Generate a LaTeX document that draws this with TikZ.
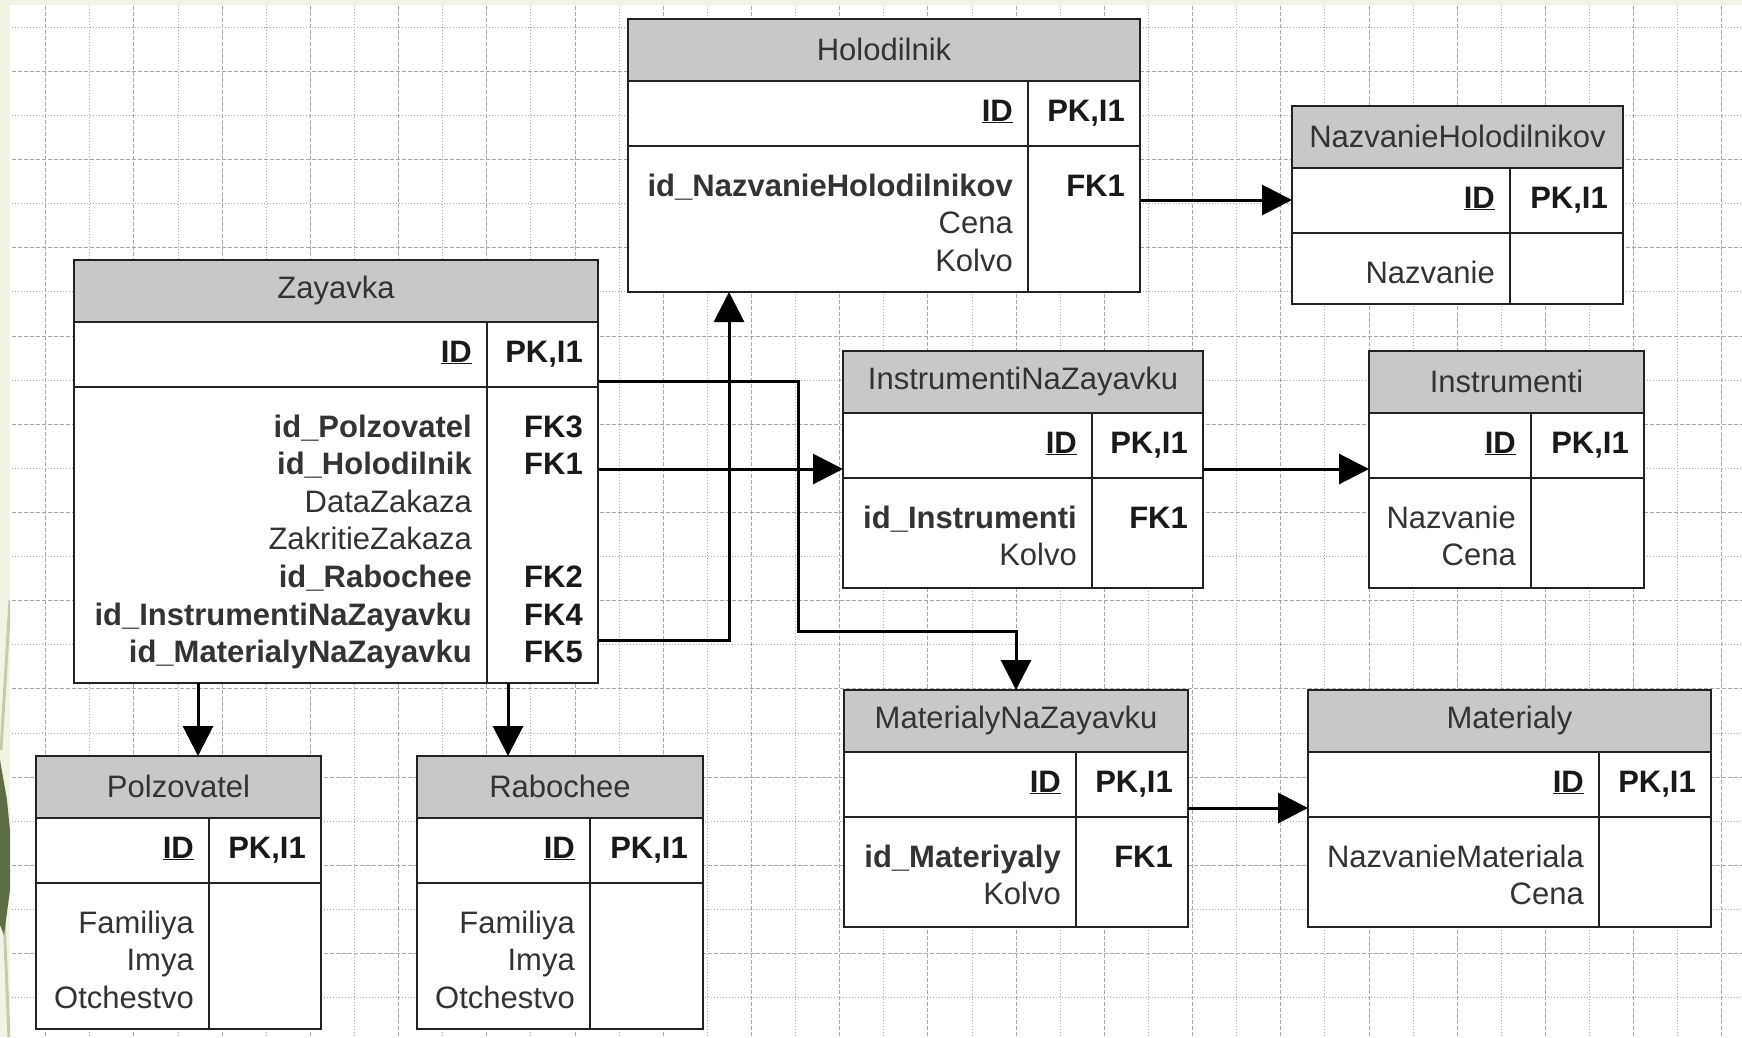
\documentclass[tikz,border=0pt]{standalone}
\usepackage{fontspec}
\setmainfont{Liberation Sans}
\usetikzlibrary{arrows.meta}

\definecolor{hdgray}{HTML}{C8C8C8}
\definecolor{txtgray}{HTML}{333333}
\definecolor{erline}{HTML}{222222}
\definecolor{paperc}{HTML}{F3F3E4}
\definecolor{leafdk}{HTML}{5E6E44}
\definecolor{leaflt}{HTML}{C6CBB0}
\definecolor{gridc}{HTML}{A6A6A6}

\tikzset{hd/.style={draw=erline, fill=hdgray, line width=2pt, inner sep=0pt, outer sep=0pt, text=txtgray, font=\fontsize{31}{36}\selectfont}}
\tikzset{cell/.style={draw=erline, fill=white, line width=2pt, inner sep=0pt, outer sep=0pt}}
\tikzset{pk/.style={inner sep=0pt, text=black!90, font=\fontsize{31}{36}\selectfont\bfseries}}
\tikzset{att/.style={inner sep=0pt, text=txtgray, font=\fontsize{31}{36}\selectfont}}
\tikzset{rel/.style={draw=black, line width=3pt, -{Triangle[length=30pt,width=30pt]}}}
\tikzset{gmaj/.style={draw=gridc, line width=1pt, dash pattern=on 4pt off 2pt}}
\tikzset{gmin/.style={draw=gridc, line width=1pt, dash pattern=on 1pt off 2pt}}

% table: name, title, x left, x divider, x right, y top, y bottom, left rows, right rows
\newcommand{\erbox}[9]{%
  \node[hd, anchor=north west, minimum width={(#5-#3)*1pt}, minimum height=61.5pt] (#1) at (#3,#6) {#2};
  \node[cell, anchor=north west, minimum width={(#5-#3)*1pt}, minimum height=65pt] (#1-k) at (#1.south west) {};
  \node[cell, anchor=north west, minimum width={(#5-#3)*1pt}, minimum height={(#7-#6-126.5)*1pt}] (#1-b) at (#1-k.south west) {};
  \draw[erline, line width=2pt] (#4,#6+61.5) -- (#4,#7);
  \node[pk, anchor=base east] at (#4-15,#6+102) {\underline{ID}};
  \node[pk, anchor=base east] at (#5-15,#6+102) {PK,I1};
  \foreach \lbl [count=\i] in {#8} \node[att, anchor=base east] (#1-l\i) at (#4-15,#6+177+\i*37.6-37.6) {\lbl};
  \foreach \lbl [count=\i] in {#9} \node[pk, anchor=base east] (#1-r\i) at (#5-15,#6+177+\i*37.6-37.6) {\lbl};
}

\begin{document}
\begin{tikzpicture}[x=1pt, y=-1pt]
\useasboundingbox (0,0) rectangle (1742,1037);
\fill[white] (0,0) rectangle (1742,1037);
% grid
\foreach \k in {0,2,...,38} \draw[gmaj] (45.7+\k*44.11,0) -- (45.7+\k*44.11,1037);
\foreach \k in {1,3,...,37} \draw[gmin] (45.7+\k*44.11,0) -- (45.7+\k*44.11,1037);
\foreach \k in {0,2,...,22} \draw[gmin] (0,27.3+\k*44.11) -- (1742,27.3+\k*44.11);
\foreach \k in {1,3,...,21} \draw[gmaj] (0,27.3+\k*44.11) -- (1742,27.3+\k*44.11);
% slide edge
\fill[paperc] (0,0) rectangle (1742,5);
\fill[paperc] (0,0) rectangle (10,1037);
\begin{scope}
\clip (0,0) rectangle (10,1037);
\draw[leaflt, line width=3pt] (10,600) -- (1,750);
\draw[leaflt, line width=3pt] (2,870) -- (9,1037);
\fill[leafdk] (0,760) -- (7,800) -- (10,830) -- (10,890) -- (4,935) -- (0,925) -- cycle;
\end{scope}

% tables
\erbox{hol}{Holodilnik}{628}{1028}{1140}{19}{292}{\textbf{id\_NazvanieHolodilnikov},Cena,Kolvo}{FK1}
\erbox{nazh}{NazvanieHolodilnikov}{1292}{1510}{1623}{106}{304}{Nazvanie}{}
\erbox{zay}{Zayavka}{74}{487}{598}{260}{683}{\textbf{id\_Polzovatel},\textbf{id\_Holodilnik},DataZakaza,ZakritieZakaza,\textbf{id\_Rabochee},\textbf{id\_InstrumentiNaZayavku},\textbf{id\_MaterialyNaZayavku}}{FK3,FK1,{},{},FK2,FK4,FK5}
\erbox{ins}{InstrumentiNaZayavku}{843}{1092}{1203}{351}{588}{\textbf{id\_Instrumenti},Kolvo}{FK1}
\erbox{inst}{Instrumenti}{1369}{1531}{1644}{351}{588}{Nazvanie,Cena}{}
\erbox{mnz}{MaterialyNaZayavku}{844}{1076}{1188}{690}{927}{\textbf{id\_Materiyaly},Kolvo}{FK1}
\erbox{mat}{Materialy}{1308}{1599}{1711}{690}{927}{NazvanieMateriala,Cena}{}
\erbox{polz}{Polzovatel}{36}{209}{321}{756}{1029}{Familiya,Imya,Otchestvo}{}
\erbox{rab}{Rabochee}{417}{590}{703}{756}{1029}{Familiya,Imya,Otchestvo}{}

% bends
\coordinate (jHol) at (729,640);
\coordinate (jIns) at (720,469);
\coordinate (jMnz) at (798,631);
\coordinate (jMat) at (1250,808);
\coordinate (jPol) at (198,720);
\coordinate (jRab) at (508,720);

% relations
\draw[rel] (zay-b.east |- jHol) -- (jHol) -- (jHol |- hol-b.south);
\draw[rel] (zay-b.east |- jIns) -- (ins-k.west |- jIns);
\draw[rel] ([yshift=5pt]zay-k.south east) -| (jMnz) -| (mnz.north);
\draw[rel] (ins-k.east |- jIns) -- (inst-k.west |- jIns);
\draw[rel] (mnz-k.east |- jMat) -- (mat-k.west |- jMat);
\draw[rel] (hol-b.east |- nazh-k.west) -- (nazh-k.west);
\draw[rel] (zay-b.south -| jPol) -- (polz.north -| jPol);
\draw[rel] (zay-b.south -| jRab) -- (rab.north -| jRab);
\end{tikzpicture}
\end{document}
